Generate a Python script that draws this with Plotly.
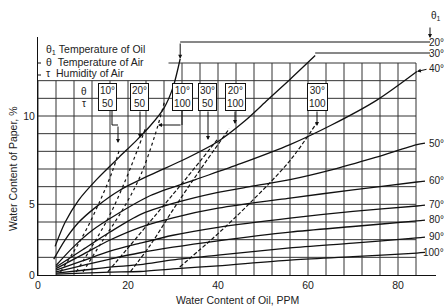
import plotly.graph_objects as go

# ---------------- data ----------------
X_TICKS = [0, 20, 40, 60, 80]
X_TICK_TEXT = ["0", "20", "40", "60", "80"]
Y_TICKS = [0, 40 / 9, 10]
Y_TICK_TEXT = ["0", "5", "10"]

# oil-temperature isotherms theta1
iso_names = ["20°", "30°", "40°", "50°", "60°", "70°", "80°", "90°", "100°"]
iso20_x = [3.8, 6, 9, 13, 18, 22, 25, 28, 30, 31.6]
iso20_y = [1.8, 3.3, 4.7, 6.0, 7.4, 8.5, 9.4, 10.5, 11.8, 13.6]
iso30_x = [3.5, 6, 9, 13, 18, 25, 32, 40, 46, 51, 56, 61.6]
iso30_y = [1.0, 2.2, 3.3, 4.3, 5.3, 6.3, 7.2, 8.4, 9.7, 11.0, 12.3, 13.8]
iso40_x = [4, 8, 12, 18, 25, 35, 45, 56, 65, 75.3, 84.2]
iso40_y = [0.6, 1.8, 2.8, 3.9, 5.0, 6.0, 7.0, 8.2, 9.4, 11.0, 12.8]
iso50_x = [4, 10, 16, 22.7, 30, 40, 48, 56, 65, 75, 84.2, 86]
iso50_y = [0.5, 1.6, 2.7, 3.8, 4.5, 5.2, 5.6, 6.0, 6.6, 7.4, 8.2, 8.3]
iso_hi_x = [4, 10, 16, 22.7, 30, 40, 56, 70, 84.2, 86]
iso60_y = [0.4, 1.3, 2.2, 3.0, 3.6, 4.2, 4.84, 5.35, 5.85, 5.9]
iso70_y = [0.3, 0.9, 1.5, 2.0, 2.5, 3.0, 3.58, 4.0, 4.34, 4.4]
iso80_y = [0.2, 0.6, 1.0, 1.4, 1.75, 2.15, 2.70, 3.05, 3.40, 3.45]
iso90_y = [0.12, 0.3, 0.5, 0.65, 0.95, 1.25, 1.70, 2.0, 2.33, 2.38]
iso100_y = [0.06, 0.12, 0.18, 0.22, 0.38, 0.58, 0.94, 1.15, 1.38, 1.42]

# air condition lines (theta / tau)
air_theta = ["10°", "20°", "10°", "30°", "20°", "30°"]
air_tau = ["50", "50", "100", "50", "100", "100"]
a1_x = [5, 8, 11, 14, 16.5, 18]
a1_y = [0.2, 1.5, 3.0, 4.8, 6.5, 7.8]
a2_x = [8.5, 12, 16, 19.5, 22, 24]
a2_y = [0.2, 1.8, 3.8, 6.0, 7.8, 9.3]
a3_x = [10, 14, 19, 22.7, 26, 28.2]
a3_y = [0.2, 2.0, 4.2, 6.2, 8.8, 11.0]
a4_x = [15.5, 20, 27.1, 33, 39.8]
a4_y = [0.2, 1.7, 4.1, 6.1, 8.5]
a5_x = [20.5, 25, 30, 36, 42.5]
a5_y = [0.2, 1.9, 4.1, 6.6, 9.2]
a6_x = [31.5, 36, 40, 47, 56, 62]
a6_y = [0.5, 1.6, 2.6, 4.5, 7.2, 9.6]

# ---------------- layout helpers ----------------
L, R, T, B = 38, 10, 37, 31
W, H = 446, 306
XMAX = (W - L - R) / 4.5
PX_PER_Y = 15.9
YMAX = (H - T - B) / PX_PER_Y
GRID_STEP_Y = 10 / 9


def px(p):
    return (p - L) / 4.5


def py(p):
    return (H - B - p) / PX_PER_Y


def paper_x(p):
    return (p - L) / (W - L - R)


def paper_y(p):
    return (H - B - p) / (H - T - B)


FONT = "Liberation Sans, Arial, sans-serif"
INK = "#111"
TXT = "#222"

fig = go.Figure()

iso_x_all = [iso20_x, iso30_x, iso40_x, iso50_x] + [iso_hi_x] * 5
iso_y_all = [iso20_y, iso30_y, iso40_y, iso50_y, iso60_y, iso70_y, iso80_y, iso90_y, iso100_y]
for name, xs, ys in zip(iso_names, iso_x_all, iso_y_all):
    fig.add_trace(go.Scatter(x=xs, y=ys, mode="lines", name=name,
                             line=dict(color=INK, width=1.3, shape="spline", smoothing=0.8),
                             showlegend=False, hoverinfo="skip"))

air_x = [a1_x, a2_x, a3_x, a4_x, a5_x, a6_x]
air_y = [a1_y, a2_y, a3_y, a4_y, a5_y, a6_y]
air_dash = ["dot", "dot", "dot", "4px,2px", "4px,2px", "4px,2px"]
for th, ta, xs, ys, d in zip(air_theta, air_tau, air_x, air_y, air_dash):
    fig.add_trace(go.Scatter(x=xs, y=ys, mode="lines", name=th + "/" + ta,
                             line=dict(color=INK, width=1.2, dash=d, shape="spline"),
                             showlegend=False, hoverinfo="skip"))

shapes = []
gl = dict(color="#333", width=1)
# vertical grid lines every 4 ppm
for k in range(0, 22):
    xv = 4 * k
    shapes.append(dict(type="line", x0=xv, x1=xv, y0=0, y1=11 * GRID_STEP_Y, line=gl, layer="below"))
    if xv >= 32:
        shapes.append(dict(type="line", x0=xv, x1=xv, y0=11 * GRID_STEP_Y, y1=12 * GRID_STEP_Y, line=gl, layer="below"))
for g in range(1, 12):
    shapes.append(dict(type="line", x0=0, x1=84, y0=g * GRID_STEP_Y, y1=g * GRID_STEP_Y, line=gl, layer="below"))
shapes.append(dict(type="line", x0=29, x1=84, y0=12 * GRID_STEP_Y, y1=12 * GRID_STEP_Y, line=gl, layer="below"))

# label lines for 20 and 30 degree isotherms
lab_line = dict(color=INK, width=1)
shapes.append(dict(type="line", x0=iso20_x[-1], x1=px(430), y0=py(42), y1=py(42), line=lab_line))
shapes.append(dict(type="line", x0=iso30_x[-1], x1=px(430), y0=py(53), y1=py(53), line=lab_line))
# small tick marks on the y axis beside the legend rows
for yy in (63, 75):
    shapes.append(dict(type="line", x0=px(36), x1=px(41), y0=py(yy), y1=py(yy), line=lab_line))

annotations = []
# axis titles
annotations.append(dict(text="Water Content of Oil, PPM", xref="paper", yref="paper",
                        x=paper_x(237), y=paper_y(300), xanchor="center", yanchor="middle",
                        showarrow=False, font=dict(size=10.5, color=TXT, family=FONT)))
annotations.append(dict(text="Water Content of Paper, %", xref="paper", yref="paper",
                        x=paper_x(13), y=paper_y(169), xanchor="center", yanchor="middle",
                        textangle=-90, showarrow=False, font=dict(size=10.5, color=TXT, family=FONT)))

# legend text
for txt, yy in [("θ<sub>1</sub> Temperature of Oil", 50), ("θ  Temperature of Air", 62),
                ("τ  Humidity of Air", 73)]:
    annotations.append(dict(text=txt, x=px(44), y=py(yy), xanchor="left", yanchor="middle",
                            showarrow=False, font=dict(size=10.5, color=TXT, family=FONT)))
annotations.append(dict(text="θ", x=px(84), y=py(91), showarrow=False,
                        font=dict(size=10, color=TXT, family=FONT)))
annotations.append(dict(text="τ", x=px(84), y=py(103), showarrow=False,
                        font=dict(size=10, color=TXT, family=FONT)))

# theta/tau boxes
box_cx = [107, 139.5, 182, 207.5, 235, 317]
for th, ta, cx in zip(air_theta, air_tau, box_cx):
    annotations.append(dict(text=th + "<br>" + ta, x=px(cx), y=py(97), showarrow=False,
                            bgcolor="white", bordercolor=INK, borderwidth=1, borderpad=1,
                            font=dict(size=10, color=TXT, family=FONT)))

# leaders from boxes to their lines
arrow_pts = [((118, 125), (118, 143)), ((140, 110), (140, 138)), ((182, 125), (158, 125)),
             ((208, 110), (208, 140)), ((235, 110), (235, 124)), ((317, 110), (317, 126))]
shapes.append(dict(type="path", path="M %f,%f L %f,%f L %f,%f" % (px(112), py(110), px(112), py(125), px(118), py(125)), line=lab_line))
shapes.append(dict(type="path", path="M %f,%f L %f,%f" % (px(182), py(110), px(182), py(125)), line=lab_line))
for (t0, t1) in arrow_pts:
    annotations.append(dict(x=px(t1[0]), y=py(t1[1]), ax=px(t0[0]), ay=py(t0[1]), axref="x", ayref="y",
                            showarrow=True, arrowhead=2, arrowsize=0.8, arrowwidth=1, arrowcolor=INK, text=""))
# arrow from the 20 degree label line down to the curve end
annotations.append(dict(x=iso20_x[-1], y=iso20_y[-1], ax=iso20_x[-1], ay=py(42), axref="x", ayref="y",
                        showarrow=True, arrowhead=2, arrowsize=0.8, arrowwidth=1, arrowcolor=INK, text=""))

# isotherm labels on the right
iso_label_py = [42, 53, 68, 143, 180, 205, 220, 236, 252]
for name, yy in zip(iso_names, iso_label_py):
    annotations.append(dict(text=name, xref="paper", yref="paper", x=paper_x(446), y=paper_y(yy),
                            xanchor="right", yanchor="middle", showarrow=False,
                            font=dict(size=10, color=TXT, family=FONT)))
annotations.append(dict(x=iso40_x[-1], y=iso40_y[-1], ax=px(428), ay=py(69), axref="x", ayref="y",
                        showarrow=True, arrowhead=2, arrowsize=0.8, arrowwidth=1, arrowcolor=INK, text=""))
annotations.append(dict(text="θ<sub>1</sub>", xref="paper", yref="paper", x=paper_x(443),
                        y=paper_y(16), showarrow=False, xanchor="right", yanchor="middle",
                        font=dict(size=10, color=TXT, family=FONT)))
annotations.append(dict(x=px(430), y=py(38), ax=px(430), ay=py(26), axref="x", ayref="y",
                        showarrow=True, arrowhead=2, arrowsize=0.8, arrowwidth=1, arrowcolor=INK, text=""))

fig.update_layout(
    width=W, height=H, autosize=False,
    margin=dict(l=L, r=R, t=T, b=B),
    paper_bgcolor="white", plot_bgcolor="white",
    shapes=shapes, annotations=annotations,
    font=dict(family=FONT, size=10.5, color=TXT),
    xaxis=dict(range=[0, XMAX], tickvals=X_TICKS, ticktext=X_TICK_TEXT, showgrid=False,
               zeroline=False, showline=True, linecolor=INK, linewidth=1, ticks="",
               tickfont=dict(size=10.5)),
    yaxis=dict(range=[0, YMAX], tickvals=Y_TICKS, ticktext=Y_TICK_TEXT, showgrid=False,
               zeroline=False, showline=True, linecolor=INK, linewidth=1, ticks="",
               tickfont=dict(size=10.5)),
)

fig.write_html("out.html", config={"displayModeBar": False},
               post_script="document.body.style.margin='0';document.body.style.padding='0';")
